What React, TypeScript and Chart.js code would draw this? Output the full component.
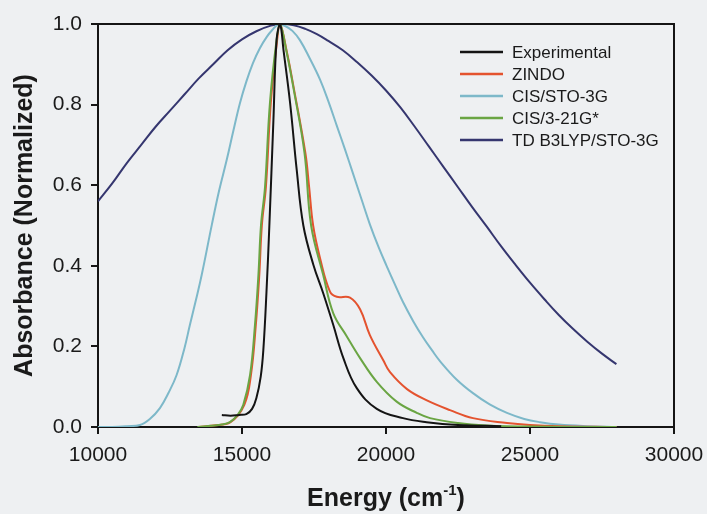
import React, { useEffect, useRef } from "react";
import { Chart, registerables } from "chart.js";

Chart.register(...registerables);

// ---- axis ranges / ticks ----
const X_MIN = 10000;
const X_MAX = 30000;
const X_STEP = 5000;
const Y_MIN = 0;
const Y_MAX = 1;
const Y_STEP = 0.2;

const X_TITLE = "Energy (cm";
const X_TITLE_SUP = "-1";
const Y_TITLE = "Absorbance (Normalized)";

// ---- series ----
const seriesNames = ["Experimental", "ZINDO", "CIS/STO-3G", "CIS/3-21G*", "TD B3LYP/STO-3G"];
const seriesColors = ["#141414", "#e4532f", "#7db8c9", "#6aa543", "#35366f"];

const expX = [14300, 14600, 14900, 15150, 15350, 15500, 15650, 15740, 15850, 15950, 16090, 16200, 16320, 16450, 16670, 16900, 17130, 17480, 17820, 18170, 18520, 18980, 19680, 20590, 21410, 22500, 24000];
const expY = [0.030, 0.028, 0.030, 0.032, 0.045, 0.072, 0.125, 0.190, 0.335, 0.500, 0.760, 0.960, 1.000, 0.930, 0.804, 0.638, 0.500, 0.402, 0.332, 0.253, 0.171, 0.097, 0.045, 0.022, 0.012, 0.005, 0.002];

const zindoX = [13500, 14000, 14600, 15080, 15310, 15480, 15600, 15690, 15830, 16000, 16220, 16320, 16560, 16790, 17200, 17330, 17470, 17710, 18055, 18290, 18750, 19100, 19440, 19910, 20140, 20730, 21420, 22220, 23020, 24200, 25000, 26000, 28000];
const zindoY = [0.000, 0.004, 0.012, 0.055, 0.129, 0.253, 0.377, 0.501, 0.596, 0.804, 0.960, 1.000, 0.930, 0.844, 0.680, 0.596, 0.500, 0.419, 0.336, 0.323, 0.321, 0.292, 0.228, 0.165, 0.136, 0.094, 0.066, 0.042, 0.022, 0.010, 0.005, 0.002, 0.000];

const sto3gX = [10000, 10500, 11000, 11460, 11800, 12150, 12450, 12730, 13000, 13190, 13400, 13600, 13950, 14200, 14470, 14700, 14930, 15150, 15380, 15620, 15860, 16050, 16280, 16500, 16750, 17010, 17350, 17710, 18000, 18290, 18570, 18850, 19150, 19440, 19750, 20020, 20300, 20590, 20950, 21290, 21600, 21880, 22450, 23020, 23600, 24200, 24800, 25350, 26000, 27000, 28000];
const sto3gY = [0.000, 0.000, 0.002, 0.005, 0.020, 0.047, 0.085, 0.129, 0.195, 0.253, 0.315, 0.377, 0.501, 0.585, 0.663, 0.735, 0.804, 0.857, 0.903, 0.940, 0.968, 0.985, 1.000, 0.995, 0.983, 0.960, 0.915, 0.862, 0.808, 0.748, 0.690, 0.630, 0.565, 0.503, 0.445, 0.400, 0.355, 0.310, 0.262, 0.222, 0.190, 0.163, 0.118, 0.084, 0.056, 0.035, 0.020, 0.012, 0.006, 0.002, 0.000];

const g321X = [13450, 13900, 14300, 14580, 14850, 15045, 15280, 15450, 15570, 15660, 15800, 15970, 16200, 16320, 16550, 16780, 17170, 17400, 17820, 18170, 18630, 19100, 19680, 20370, 21070, 21530, 22500, 23500, 25000, 28000];
const g321Y = [0.000, 0.003, 0.006, 0.012, 0.030, 0.055, 0.129, 0.253, 0.377, 0.501, 0.596, 0.804, 0.960, 1.000, 0.930, 0.844, 0.680, 0.500, 0.377, 0.282, 0.226, 0.171, 0.112, 0.063, 0.035, 0.022, 0.010, 0.004, 0.001, 0.000];

const tdX = [10000, 10500, 11000, 11500, 12000, 12500, 13000, 13500, 14000, 14500, 15000, 15500, 16000, 16400, 16800, 17200, 17600, 18000, 18500, 19000, 19500, 20000, 20500, 21000, 21500, 22000, 22500, 23000, 23500, 24000, 24500, 25000, 25500, 26000, 26500, 27000, 27500, 28000];
const tdY = [0.560, 0.605, 0.655, 0.700, 0.745, 0.785, 0.825, 0.865, 0.900, 0.935, 0.962, 0.982, 0.996, 1.000, 0.997, 0.988, 0.975, 0.958, 0.935, 0.905, 0.872, 0.835, 0.793, 0.745, 0.695, 0.645, 0.595, 0.545, 0.497, 0.448, 0.402, 0.358, 0.317, 0.278, 0.243, 0.211, 0.182, 0.156];

const seriesX = [expX, zindoX, sto3gX, g321X, tdX];
const seriesY = [expY, zindoY, sto3gY, g321Y, tdY];
const drawOrder = [0, 2, 3, 1, 4];

const FONT = "'Liberation Sans', Arial, Helvetica, sans-serif";
const TEXT = "#1a1a1a";
const AXIS = "#151515";
const BG = "#eef0f2";

const bgPlugin = {
  id: "bg",
  beforeDraw(chart: any) {
    const ctx = chart.ctx;
    ctx.save();
    ctx.fillStyle = BG;
    ctx.fillRect(0, 0, chart.width, chart.height);
    ctx.restore();
  },
};

const decorPlugin = {
  id: "decor",
  afterDraw(chart: any) {
    const ctx = chart.ctx;
    const a = chart.chartArea;
    ctx.save();
    // frame top/right
    ctx.strokeStyle = AXIS;
    ctx.lineWidth = 2;
    ctx.beginPath();
    ctx.moveTo(a.left, a.top);
    ctx.lineTo(a.right, a.top);
    ctx.lineTo(a.right, a.bottom);
    ctx.stroke();

    // legend
    ctx.font = `17px ${FONT}`;
    ctx.textBaseline = "middle";
    ctx.textAlign = "left";
    chart.data.datasets.forEach((ds: any, i: number) => {
      const y = a.top + 28 + i * 22;
      ctx.strokeStyle = ds.borderColor;
      ctx.lineWidth = 2.5;
      ctx.beginPath();
      ctx.moveTo(a.right - 214, y);
      ctx.lineTo(a.right - 171, y);
      ctx.stroke();
      ctx.fillStyle = TEXT;
      ctx.fillText(ds.label, a.right - 162, y + 1);
    });

    // x title with superscript
    const big = `bold 25px ${FONT}`;
    const small = `bold 15px ${FONT}`;
    ctx.font = big;
    const w1 = ctx.measureText(X_TITLE).width;
    const w3 = ctx.measureText(")").width;
    ctx.font = small;
    const w2 = ctx.measureText(X_TITLE_SUP).width;
    const total = w1 + w2 + w3;
    const cx = (a.left + a.right) / 2;
    const base = a.bottom + 79;
    let x = cx - total / 2;
    ctx.fillStyle = TEXT;
    ctx.textBaseline = "alphabetic";
    ctx.font = big;
    ctx.fillText(X_TITLE, x, base);
    x += w1;
    ctx.font = small;
    ctx.fillText(X_TITLE_SUP, x, base - 11);
    x += w2;
    ctx.font = big;
    ctx.fillText(")", x, base);
    ctx.restore();
  },
};

export default function App() {
  const ref = useRef<HTMLCanvasElement | null>(null);

  useEffect(() => {
    if (!ref.current) return;
    const datasets = seriesNames.map((name, i) => ({
      label: name,
      data: seriesX[i].map((x, k) => ({ x, y: seriesY[i][k] })),
      borderColor: seriesColors[i],
      backgroundColor: seriesColors[i],
      borderWidth: 2,
      pointRadius: 0,
      fill: false,
      tension: 0.4,
      order: drawOrder[i],
    }));

    const chart = new Chart(ref.current, {
      type: "line",
      data: { datasets },
      options: {
        responsive: false,
        animation: false,
        events: [],
        layout: { padding: { left: 10, top: 24, right: 33, bottom: 0 } },
        plugins: {
          legend: { display: false },
          tooltip: { enabled: false },
        },
        scales: {
          x: {
            type: "linear",
            min: X_MIN,
            max: X_MAX,
            afterFit: (s: any) => {
              s.height = 87;
              s.paddingLeft = 0;
              s.paddingRight = 0;
            },
            ticks: {
              stepSize: X_STEP,
              maxRotation: 0,
              autoSkip: false,
              padding: 9,
              color: TEXT,
              font: { family: FONT, size: 21 },
              callback: (v: any) => String(v),
            },
            grid: {
              drawOnChartArea: false,
              drawTicks: true,
              tickLength: 7,
              color: AXIS,
              lineWidth: 2,
            },
            border: { display: true, color: AXIS, width: 2 },
          },
          y: {
            type: "linear",
            min: Y_MIN,
            max: Y_MAX,
            afterFit: (s: any) => {
              s.width = 88;
            },
            ticks: {
              stepSize: Y_STEP,
              padding: 9,
              color: TEXT,
              font: { family: FONT, size: 21 },
              callback: (v: any) => Number(v).toFixed(1),
            },
            grid: {
              drawOnChartArea: false,
              drawTicks: true,
              tickLength: 7,
              color: AXIS,
              lineWidth: 2,
            },
            border: { display: true, color: AXIS, width: 2 },
            title: {
              display: true,
              text: Y_TITLE,
              color: TEXT,
              font: { family: FONT, size: 25, weight: "bold" },
              padding: { top: 0, bottom: 0 },
            },
          },
        },
      },
      plugins: [bgPlugin, decorPlugin],
    });
    return () => chart.destroy();
  }, []);

  return (
    <div style={{ position: "absolute", left: 0, top: 0, width: 707, height: 514, background: BG }}>
      <canvas ref={ref} width={707} height={514} />
    </div>
  );
}
